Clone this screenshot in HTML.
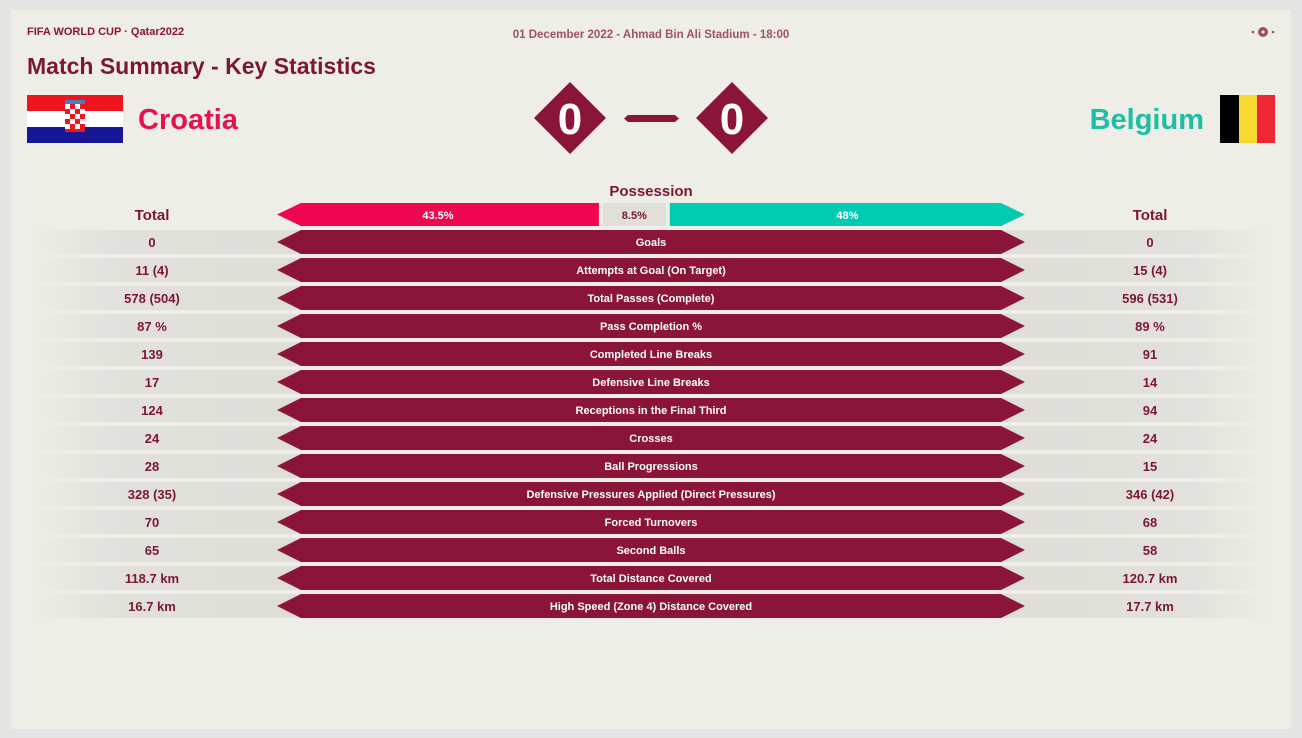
<!DOCTYPE html>
<html><head><meta charset="utf-8">
<style>
html,body{margin:0;padding:0;background:#e4e4e2;width:1302px;height:738px;overflow:hidden;font-family:"Liberation Sans",sans-serif}
svg{display:block}
</style></head><body>
<svg id="chart" width="1302" height="738" viewBox="0 0 1302 738">
<defs>
<linearGradient id="bandL" x1="0" x2="1" y1="0" y2="0">
<stop offset="0" stop-color="#e2e1db" stop-opacity="0"/>
<stop offset="0.3" stop-color="#e2e1db"/>
<stop offset="1" stop-color="#deddd6"/>
</linearGradient>
<linearGradient id="bandR" x1="1" x2="0" y1="0" y2="0">
<stop offset="0" stop-color="#e2e1db" stop-opacity="0"/>
<stop offset="0.3" stop-color="#e2e1db"/>
<stop offset="1" stop-color="#deddd6"/>
</linearGradient>
</defs>
<rect x="11" y="10" width="1280" height="719" fill="#eeede6"/>
<text x="27" y="35" font-size="11" font-weight="bold" fill="#8a1538">FIFA WORLD CUP · Qatar2022</text>
<text x="651" y="38" font-size="11.5" font-weight="bold" fill="#a0506a" text-anchor="middle">01 December 2022 - Ahmad Bin Ali Stadium - 18:00</text>
<g>
<circle cx="1263" cy="32" r="5" fill="#a0506a"/><circle cx="1263" cy="32" r="1.5" fill="#eeede6"/>
<circle cx="1253" cy="32" r="1.3" fill="#a0506a"/><circle cx="1273" cy="32" r="1.3" fill="#a0506a"/>
</g>
<text x="27" y="74" font-size="23" font-weight="bold" fill="#7c1633">Match Summary - Key Statistics</text>
<g>
<rect x="27" y="95" width="96" height="16" fill="#f0141e"/>
<rect x="27" y="111" width="96" height="16" fill="#fff"/>
<rect x="27" y="127" width="96" height="16" fill="#171796"/>
<rect x="65" y="104" width="20" height="28" fill="#f0141e"/>
<rect x="65" y="104" width="5" height="5" fill="#fff"/><rect x="75" y="104" width="5" height="5" fill="#fff"/>
<rect x="70" y="109" width="5" height="5" fill="#fff"/><rect x="80" y="109" width="5" height="5" fill="#fff"/>
<rect x="65" y="114" width="5" height="5" fill="#fff"/><rect x="75" y="114" width="5" height="5" fill="#fff"/>
<rect x="70" y="119" width="5" height="5" fill="#fff"/><rect x="80" y="119" width="5" height="5" fill="#fff"/>
<rect x="65" y="124" width="5" height="5" fill="#fff"/><rect x="75" y="124" width="5" height="5" fill="#fff"/>
<rect x="65" y="100" width="20" height="4" fill="#4a7ec0"/>
</g>
<text x="138" y="129" font-size="29" font-weight="bold" fill="#e8114e">Croatia</text>
<text x="1204" y="129" font-size="29" font-weight="bold" fill="#1cbfa6" text-anchor="end">Belgium</text>
<g>
<rect x="1220" y="95" width="19" height="48" fill="#000"/>
<rect x="1239" y="95" width="18" height="48" fill="#fad832"/>
<rect x="1257" y="95" width="18" height="48" fill="#ee2737"/>
</g>
<g>
<polygon points="570,82 606,118 570,154 534,118" fill="#8a1538"/>
<text x="570" y="134" font-size="44" font-weight="bold" fill="#fff" text-anchor="middle">0</text>
</g>
<polygon points="628,115 675,115 679,118.5 675,122 628,122 624,118.5" fill="#8a1538"/>
<g>
<polygon points="732,82 768,118 732,154 696,118" fill="#8a1538"/>
<text x="732" y="134" font-size="44" font-weight="bold" fill="#fff" text-anchor="middle">0</text>
</g>
<text x="651" y="196" font-size="15" font-weight="bold" fill="#7c1633" text-anchor="middle">Possession</text>
<text x="152" y="220" font-size="15" font-weight="bold" fill="#7c1633" text-anchor="middle">Total</text>
<text x="1150" y="220" font-size="15" font-weight="bold" fill="#7c1633" text-anchor="middle">Total</text>
<g id="poss"></g>
<g id="rows"></g>
</svg>
<script>
const possLabels = ["43.5%", "8.5%", "48%"];
const possValues = [43.5, 8.5, 48];
const statNames = ["Goals","Attempts at Goal (On Target)","Total Passes (Complete)","Pass Completion %","Completed Line Breaks","Defensive Line Breaks","Receptions in the Final Third","Crosses","Ball Progressions","Defensive Pressures Applied (Direct Pressures)","Forced Turnovers","Second Balls","Total Distance Covered","High Speed (Zone 4) Distance Covered"];
const homeValues = ["0","11 (4)","578 (504)","87 %","139","17","124","24","28","328 (35)","70","65","118.7 km","16.7 km"];
const awayValues = ["0","15 (4)","596 (531)","89 %","91","14","94","24","15","346 (42)","68","58","120.7 km","17.7 km"];

const NS="http://www.w3.org/2000/svg";
function mk(tag,attrs,parent){const e=document.createElementNS(NS,tag);for(const k in attrs)e.setAttribute(k,attrs[k]);parent.appendChild(e);return e;}
const L=277,R=1025,TIP=24,GAP=4;
// possession
const pg=document.getElementById('poss');
const total=possValues.reduce((a,b)=>a+b,0);
const avail=(R-L)-GAP*2;
const cols=["#f0064e","#e0dfd8","#00cbb2"];
const tcol=["#fff","#7c1633","#fff"];
const pnames=['possession-home','possession-contested','possession-away'];
let x=L;const py=203,ph=23;
possValues.forEach((v,i)=>{
  const w=avail*v/total;
  let pts;
  if(i===0)pts=`${x},${py+ph/2} ${x+TIP},${py} ${x+w},${py} ${x+w},${py+ph} ${x+TIP},${py+ph}`;
  else if(i===2)pts=`${x},${py} ${x+w-TIP},${py} ${x+w},${py+ph/2} ${x+w-TIP},${py+ph} ${x},${py+ph}`;
  else pts=`${x},${py} ${x+w},${py} ${x+w},${py+ph} ${x},${py+ph}`;
  const g=mk('g',{},pg);
  
  
  mk('polygon',{points:pts,fill:cols[i]},g);
  const t=mk('text',{x:x+w/2,y:py+16,'font-size':11,'font-weight':'bold',fill:tcol[i],'text-anchor':'middle'},g);
  t.textContent=possLabels[i];
  x+=w+GAP;
});
// rows
const rg=document.getElementById('rows');
statNames.forEach((name,i)=>{
  const cy=242+i*28, y=cy-12, h=24;
  const g=mk('g',{},rg);
  
  
  mk('rect',{x:30,y:y,width:L+TIP-30,height:h,fill:'url(#bandL)'},g);
  mk('rect',{x:R-TIP,y:y,width:1272-(R-TIP),height:h,fill:'url(#bandR)'},g);
  mk('polygon',{points:`${L},${cy} ${L+TIP},${y} ${R-TIP},${y} ${R},${cy} ${R-TIP},${y+h} ${L+TIP},${y+h}`,fill:'#8a1538'},g);
  const t=mk('text',{x:651,y:cy+4,'font-size':11,'font-weight':'bold',fill:'#fff','text-anchor':'middle'},g);
  t.textContent=name;
  const a=mk('text',{x:152,y:cy+5,'font-size':13,'font-weight':'bold',fill:'#7c1633','text-anchor':'middle'},g);
  a.textContent=homeValues[i];
  const b=mk('text',{x:1150,y:cy+5,'font-size':13,'font-weight':'bold',fill:'#7c1633','text-anchor':'middle'},g);
  b.textContent=awayValues[i];
});
</script>
</body></html>
